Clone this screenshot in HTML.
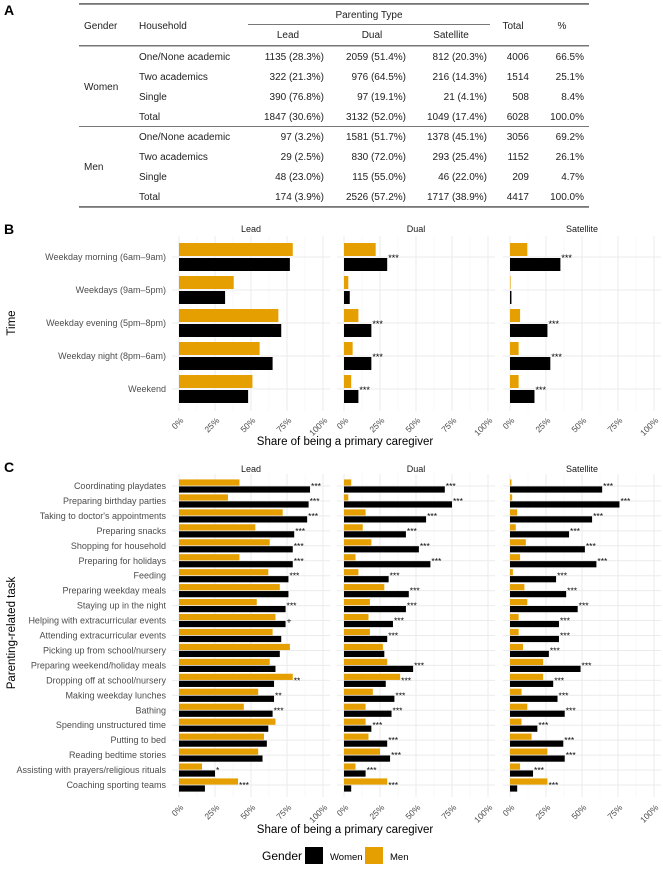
<!DOCTYPE html>
<html><head><meta charset="utf-8">
<style>
html,body{margin:0;padding:0;background:#fff;}
body{width:663px;height:866px;overflow:hidden;font-family:"Liberation Sans",Arial,sans-serif;}
svg text{font-family:"Liberation Sans",Arial,sans-serif;}
</style></head>
<body>
<svg id="fig" width="663" height="866" viewBox="0 0 663 866" xmlns="http://www.w3.org/2000/svg">
<g id="tableA"></g>
<g id="panelB"></g>
<g id="panelC"></g>
<g id="legend">
  <text x="262" y="860" font-size="12" fill="#000">Gender</text>
  <rect x="305" y="847" width="18" height="17" fill="#000"/>
  <text x="330" y="860" font-size="9.5" fill="#000">Women</text>
  <rect x="365" y="847" width="18" height="17" fill="#E69F00"/>
  <text x="390" y="860" font-size="9.5" fill="#000">Men</text>
</g>
</svg>
<script>
// ---------- Table data ----------
const tableRows = [
 ["One/None academic","1135 (28.3%)","2059 (51.4%)","812 (20.3%)","4006","66.5%"],
 ["Two academics","322 (21.3%)","976 (64.5%)","216 (14.3%)","1514","25.1%"],
 ["Single","390 (76.8%)","97 (19.1%)","21 (4.1%)","508","8.4%"],
 ["Total","1847 (30.6%)","3132 (52.0%)","1049 (17.4%)","6028","100.0%"],
 ["One/None academic","97 (3.2%)","1581 (51.7%)","1378 (45.1%)","3056","69.2%"],
 ["Two academics","29 (2.5%)","830 (72.0%)","293 (25.4%)","1152","26.1%"],
 ["Single","48 (23.0%)","115 (55.0%)","46 (22.0%)","209","4.7%"],
 ["Total","174 (3.9%)","2526 (57.2%)","1717 (38.9%)","4417","100.0%"]
];

// ---------- Panel B data ----------
const timeCats = ["Weekday morning (6am–9am)","Weekdays (9am–5pm)","Weekday evening (5pm–8pm)","Weekday night (8pm–6am)","Weekend"];
const timeLeadMen   = [79,38,69,56,51];
const timeLeadWomen = [77,32,71,65,48];
const timeDualMen   = [22,3,10,6,5];
const timeDualWomen = [30,4,19,19,10];
const timeSatMen    = [12,0.4,7,6,6];
const timeSatWomen  = [35,1,26,28,17];
const timeLeadSig = ["","","","",""];
const timeDualSig = ["***","","***","***","***"];
const timeSatSig  = ["***","","***","***","***"];

// ---------- Panel C data ----------
const taskCats = ["Coordinating playdates","Preparing birthday parties","Taking to doctor's appointments","Preparing snacks","Shopping for household","Preparing for holidays","Feeding","Preparing weekday meals","Staying up in the night","Helping with extracurricular events","Attending extracurricular events","Picking up from school/nursery","Preparing weekend/holiday meals","Dropping off at school/nursery","Making weekday lunches","Bathing","Spending unstructured time","Putting to bed","Reading bedtime stories","Assisting with prayers/religious rituals","Coaching sporting teams"];
const taskLeadMen   = [42,34,72,53,63,42,62,70,54,67,65,77,63,79,55,45,67,59,55,16,41];
const taskLeadWomen = [91,90,89,80,79,79,76,76,74,74,71,70,67,66,66,65,62,61,58,25,18];
const taskDualMen   = [5,3,15,13,19,8,10,28,18,17,18,27,30,39,20,15,15,17,25,8,30];
const taskDualWomen = [70,75,57,43,52,60,31,45,43,34,30,28,48,29,35,33,19,30,32,15,5];
const taskSatMen    = [1,1.5,5,4,11,7,2,10,12,6,6,9,23,23,8,12,8,15,26,7,26];
const taskSatWomen  = [64,76,57,41,52,60,32,39,47,34,34,27,49,30,33,38,19,37,38,16,5];
const taskLeadSig = ["***","***","***","***","***","***","***","","***","+","","","","**","**","***","","","","*","***"];
const taskDualSig = ["***","***","***","***","***","***","***","***","***","***","***","","***","***","***","***","***","***","***","***","***"];
const taskSatSig  = ["***","***","***","***","***","***","***","***","***","***","***","***","***","***","***","***","***","***","***","***","***"];

const xTicks = [0,25,50,75,100];
const xTickLabels = ["0%","25%","50%","75%","100%"];
const panelNames = ["Lead","Dual","Satellite"];

const NS = "http://www.w3.org/2000/svg";
function mk(tag, attrs, parent, txt){
  const e = document.createElementNS(NS, tag);
  for (const k in attrs) e.setAttribute(k, attrs[k]);
  if (txt !== undefined) e.textContent = txt;
  parent.appendChild(e);
  return e;
}

// ---------- Table ----------
(function(){
  const g = document.getElementById('tableA');
  let t;
  t = mk('text',{x:4,y:15,'font-size':14,'font-weight':'bold',fill:'#000'},g,'A');
  
  
  let l;
  l = mk('rect',{x:79,y:3,width:510,height:1.8,fill:'#777'},g);
   
  l = mk('rect',{x:248,y:24,width:242,height:1,fill:'#777'},g);
   
  l = mk('rect',{x:79,y:45,width:510,height:1.5,fill:'#777'},g);
   
  l = mk('rect',{x:79,y:126,width:510,height:1,fill:'#777'},g);
   
  l = mk('rect',{x:79,y:206,width:510,height:1.8,fill:'#777'},g);
   
  const fs = 10;
  const hdr = [[84,29,'Gender','start'],[139,29,'Household','start'],[369,18,'Parenting Type','middle'],[288,38,'Lead','middle'],[372,38,'Dual','middle'],[451,38,'Satellite','middle'],[513,29,'Total','middle'],[562,29,'%','middle']];
  hdr.forEach(h=>{
    const e = mk('text',{x:h[0],y:h[1],'font-size':fs,fill:'#222','text-anchor':h[3]},g,h[2]);
    
    
  });
  let e = mk('text',{x:84,y:90,'font-size':fs,fill:'#222'},g,'Women');
   
  e = mk('text',{x:84,y:170,'font-size':fs,fill:'#222'},g,'Men');
   
  const colX = [139,324,406,487,529,584];
  tableRows.forEach((r,i)=>{
    const y = 60 + i*20 + (i>=4?0:0);
    r.forEach((c,j)=>{
      const c2 = mk('text',{x:colX[j],y:y,'font-size':fs,fill:'#222','text-anchor':j==0?'start':'end'},g,c);
      
      
    });
  });
})();

// ---------- Faceted chart ----------
function drawFacets(gid, cfg){
  const g = document.getElementById(gid);
  const zeros = [179,344,510], W = 144;
  const n = cfg.cats.length;
  const yC = i => cfg.y0 + i*cfg.step;
  const xS = (p,v) => zeros[p] + v/100*W;
  // label
  let t = mk('text',{x:4,y:cfg.letterY,'font-size':14,'font-weight':'bold',fill:'#000'},g,cfg.letter);
  
  
  // y-axis title
  t = mk('text',{x:0,y:0,'font-size':11.5,fill:'#000','text-anchor':'middle',transform:`translate(15,${cfg.titleY}) rotate(-90)`},g,cfg.yTitle);
  
  
  // category labels
  cfg.cats.forEach((c,i)=>{
    const e = mk('text',{x:166,y:yC(i)+3,'font-size':cfg.catFs,fill:'#4d4d4d','text-anchor':'end'},g,c);
    
    
  });
  for (let p=0;p<3;p++){
    const pg = mk('g',{},g);
    
    
    const left = xS(p,0)-7, right = xS(p,100)+7;
    // grid minor
    [12.5,37.5,62.5,87.5].forEach(v=>{
      const ln = mk('line',{x1:xS(p,v),x2:xS(p,v),y1:cfg.top,y2:cfg.bottom,stroke:'#f3f3f3','stroke-width':0.6},pg);
       
    });
    xTicks.forEach(v=>{
      const ln = mk('line',{x1:xS(p,v),x2:xS(p,v),y1:cfg.top,y2:cfg.bottom,stroke:'#ebebeb','stroke-width':1},pg);
       
    });
    cfg.cats.forEach((c,i)=>{
      const ln = mk('line',{x1:left,x2:right,y1:yC(i),y2:yC(i),stroke:'#ebebeb','stroke-width':1},pg);
       
    });
    // strip
    const st = mk('text',{x:(left+right)/2,y:cfg.stripY,'font-size':9,fill:'#1a1a1a','text-anchor':'middle'},pg,panelNames[p]);
    
    
    // bars
    const men = cfg.men[p], women = cfg.women[p], sig = cfg.sig[p];
    for (let i=0;i<n;i++){
      const c = yC(i);
      const bm = mk('rect',{x:xS(p,0),y:c-cfg.bh-cfg.gap,width:Math.max(0.5,xS(p,men[i])-xS(p,0)),height:cfg.bh,fill:'#E69F00'},pg);
      
      
      const bw = mk('rect',{x:xS(p,0),y:c+cfg.gap,width:Math.max(0.5,xS(p,women[i])-xS(p,0)),height:cfg.bh,fill:'#000'},pg);
      
      
      if (sig[i]){
        const mx = Math.max(men[i],women[i]);
        const s = mk('text',{x:xS(p,mx)+1,y:c+cfg.sigDy,'font-size':cfg.sigFs,fill:'#000'},pg,sig[i]);
        
        
      }
    }
    // ticks
    xTicks.forEach((v,k)=>{
      const tl = mk('text',{x:0,y:0,'font-size':8.5,fill:'#4d4d4d','text-anchor':'end',transform:`translate(${xS(p,v)+5},${cfg.tickY}) rotate(-45)`},pg,xTickLabels[k]);
      
      
    });
  }
  t = mk('text',{x:345,y:cfg.xTitleY,'font-size':11.5,fill:'#000','text-anchor':'middle'},g,'Share of being a primary caregiver');
  
  
}

drawFacets('panelB',{
  cats:timeCats, letter:'B', letterY:234, yTitle:'Time', titleY:323,
  men:[timeLeadMen,timeDualMen,timeSatMen], women:[timeLeadWomen,timeDualWomen,timeSatWomen],
  sig:[timeLeadSig,timeDualSig,timeSatSig],
  y0:257, step:33, bh:13, gap:1, top:236, bottom:411, stripY:232,
  catFs:9, sigFs:9, sigDy:4, tickY:421, xTitleY:445
});
drawFacets('panelC',{
  cats:taskCats, letter:'C', letterY:472, yTitle:'Parenting-related task', titleY:633,
  men:[taskLeadMen,taskDualMen,taskSatMen], women:[taskLeadWomen,taskDualWomen,taskSatWomen],
  sig:[taskLeadSig,taskDualSig,taskSatSig],
  y0:486, step:14.95, bh:6.2, gap:0.4, top:474, bottom:797, stripY:472,
  catFs:9, sigFs:8.5, sigDy:3, tickY:808, xTitleY:833
});
</script>
</body></html>
